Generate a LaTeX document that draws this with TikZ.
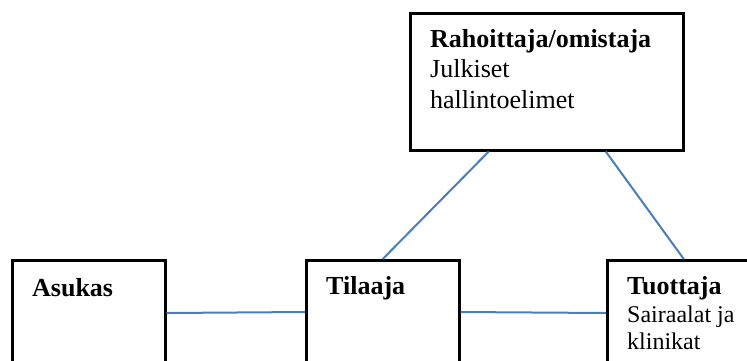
\documentclass[tikz,border=0pt]{standalone}
\usepackage{fontspec}
\setmainfont{Liberation Serif}
\definecolor{linkblue}{HTML}{4A7EBB}
\tikzset{
  box/.style={draw=black, line width=2.5pt, minimum width=153pt, minimum height=137pt, anchor=north west, inner sep=0pt},
  topbox/.style={draw=black, line width=2.5pt, minimum width=273pt, minimum height=137pt, anchor=north west, inner sep=0pt},
  label/.style={anchor=base west, inner sep=0pt, font=\fontsize{26}{30.5}\selectfont},
  sublabel/.style={anchor=base west, inner sep=0pt, font=\fontsize{24}{27}\selectfont},
  link/.style={draw=linkblue, line width=2pt}
}
\begin{document}
\begin{tikzpicture}[x=1pt,y=-1pt]
\useasboundingbox (0,0) rectangle (747,360);
\node[topbox] (top) at (409,12) {};
\node[box] (asukas) at (11,259) {};
\node[box] (tilaaja) at (305,259) {};
\node[box] (tuottaja) at (606,259) {};
% texts
\node[label] (toptext) at ([xshift=21pt,yshift=-35pt]top.north west)
  {\begin{tabular}[t]{@{}l@{}}\textbf{Rahoittaja/omistaja}\\Julkiset\\hallintoelimet\end{tabular}};
\node[label] (asukastext) at ([xshift=21pt,yshift=-37pt]asukas.north west) {\textbf{Asukas}};
\node[label] (tilaajatext) at ([xshift=21pt,yshift=-35pt]tilaaja.north west) {\textbf{Tilaaja}};
\node[label] (tuottajatext) at ([xshift=21pt,yshift=-35pt]tuottaja.north west) {\textbf{Tuottaja}};
\node[sublabel] (tuottajasub) at ([yshift=-28pt]tuottajatext.base west)
  {\begin{tabular}[t]{@{}l@{}}Sairaalat ja\\klinikat\end{tabular}};
% connectors
\draw[link] ([yshift=-54pt]asukas.north east) -- ([yshift=-53pt]tilaaja.north west);
\draw[link] ([yshift=-53pt]tilaaja.north east) -- ([yshift=-54pt]tuottaja.north west);
\draw[link] ([xshift=-58pt]top.south) -- (tilaaja.north);
\draw[link] ([xshift=59pt]top.south) -- (tuottaja.north);
\end{tikzpicture}
\end{document}
